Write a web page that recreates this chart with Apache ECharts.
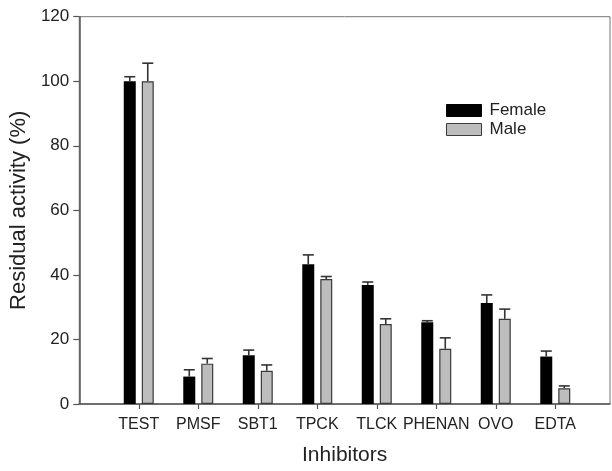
<!DOCTYPE html>
<html>
<head>
<meta charset="utf-8">
<script src="https://cdn.jsdelivr.net/npm/echarts@6/dist/echarts.min.js"></script>
<style>
  html, body { margin: 0; padding: 0; background: #fff; }
  #chart { width: 612px; height: 471px; }
</style>
</head>
<body>
<div id="chart"></div>
<script>
const categories = ['TEST', 'PMSF', 'SBT1', 'TPCK', 'TLCK', 'PHENAN', 'OVO', 'EDTA'];
const female = [100, 8.5, 15.1, 43.3, 36.9, 25.3, 31.3, 14.7];
const femaleErr = [1.4, 2.1, 1.6, 2.9, 0.9, 0.5, 2.5, 1.7];
const male = [100, 12.5, 10.3, 38.7, 24.8, 17.1, 26.4, 4.9];
const maleErr = [5.6, 1.6, 1.8, 0.8, 1.6, 3.4, 3.0, 0.7];
const yTicks = [0, 20, 40, 60, 80, 100, 120];

const FONT = "'Liberation Sans', Arial, sans-serif";
const positions = categories.map((c, i) => i + 1);

const femaleData = positions.map((p, i) => [p, female[i]]);
const maleData = positions.map((p, i) => [p, male[i]]);
const femaleErrData = positions.map((p, i) => [p, female[i], female[i] + femaleErr[i]]);
const maleErrData = positions.map((p, i) => [p, male[i], male[i] + maleErr[i]]);

function errRender(offset) {
  return function (params, api) {
    const x = api.value(0);
    const base = api.coord([x, api.value(1)]);
    const top = api.coord([x, api.value(2)]);
    const cx = base[0] + offset;
    const hw = 5.5;
    const style = { stroke: '#333', lineWidth: 1.6 };
    return {
      type: 'group',
      children: [
        { type: 'line', shape: { x1: cx, y1: base[1], x2: cx, y2: top[1] }, style: style },
        { type: 'line', shape: { x1: cx - hw, y1: top[1], x2: cx + hw, y2: top[1] }, style: style }
      ]
    };
  };
}

const chart = echarts.init(document.getElementById('chart'), null, { renderer: 'canvas' });
chart.setOption({
  animation: false,
  backgroundColor: '#fff',
  grid: {
    left: 73, right: 2, top: 16.7, bottom: 64.3,
    show: true, borderColor: '#777', borderWidth: 1, backgroundColor: 'transparent'
  },
  legend: {
    orient: 'vertical',
    left: 441, top: 97,
    itemWidth: 35, itemHeight: 12, itemGap: 2,
    icon: 'rect',
    textStyle: { fontFamily: FONT, fontSize: 17, color: '#222', lineHeight: 17, padding: [0, 0, 0, 3] },
    data: [
      { name: 'Female', itemStyle: { color: '#000', borderColor: '#000', borderWidth: 1 } },
      { name: 'Male', itemStyle: { color: '#bdbdbd', borderColor: '#3a3a3a', borderWidth: 1 } }
    ]
  },
  xAxis: {
    type: 'value',
    min: 0, max: 8.92, interval: 1,
    name: 'Inhibitors',
    nameLocation: 'middle',
    nameGap: 41,
    nameTextStyle: { fontFamily: FONT, fontSize: 21, color: '#222' },
    splitLine: { show: false },
    axisLine: { show: true, lineStyle: { color: '#555', width: 1.5 } },
    axisTick: { show: true, length: 5, lineStyle: { color: '#555', width: 1.2 }, customValues: positions },
    axisLabel: {
      customValues: positions,
      formatter: function (v) { return categories[Math.round(v) - 1] || ''; },
      fontFamily: FONT, fontSize: 16, color: '#222', margin: 13
    }
  },
  yAxis: {
    type: 'value',
    min: yTicks[0], max: yTicks[yTicks.length - 1], interval: 20,
    name: 'Residual activity (%)',
    nameLocation: 'middle',
    nameGap: 42,
    nameTextStyle: { fontFamily: FONT, fontSize: 22, color: '#222' },
    splitLine: { show: false },
    axisLine: { show: true, lineStyle: { color: '#555', width: 1.5 } },
    axisTick: { show: true, length: 6, lineStyle: { color: '#555', width: 1.2 } },
    axisLabel: { fontFamily: FONT, fontSize: 17, color: '#222', margin: 10 }
  },
  series: [
    {
      name: 'Female', type: 'bar', data: femaleData,
      barWidth: 12, barGap: '50%',
      itemStyle: { color: '#000', borderColor: '#000', borderWidth: 0 }
    },
    {
      name: 'Male', type: 'bar', data: maleData,
      barWidth: 12, barGap: '50%',
      itemStyle: { color: '#bdbdbd', borderColor: '#3a3a3a', borderWidth: 1.2 }
    },
    {
      type: 'custom', data: femaleErrData, renderItem: errRender(-9), z: 5,
      encode: { x: 0, y: [1, 2] }, silent: true
    },
    {
      type: 'custom', data: maleErrData, renderItem: errRender(9), z: 5,
      encode: { x: 0, y: [1, 2] }, silent: true
    }
  ]
});
</script>
</body>
</html>
